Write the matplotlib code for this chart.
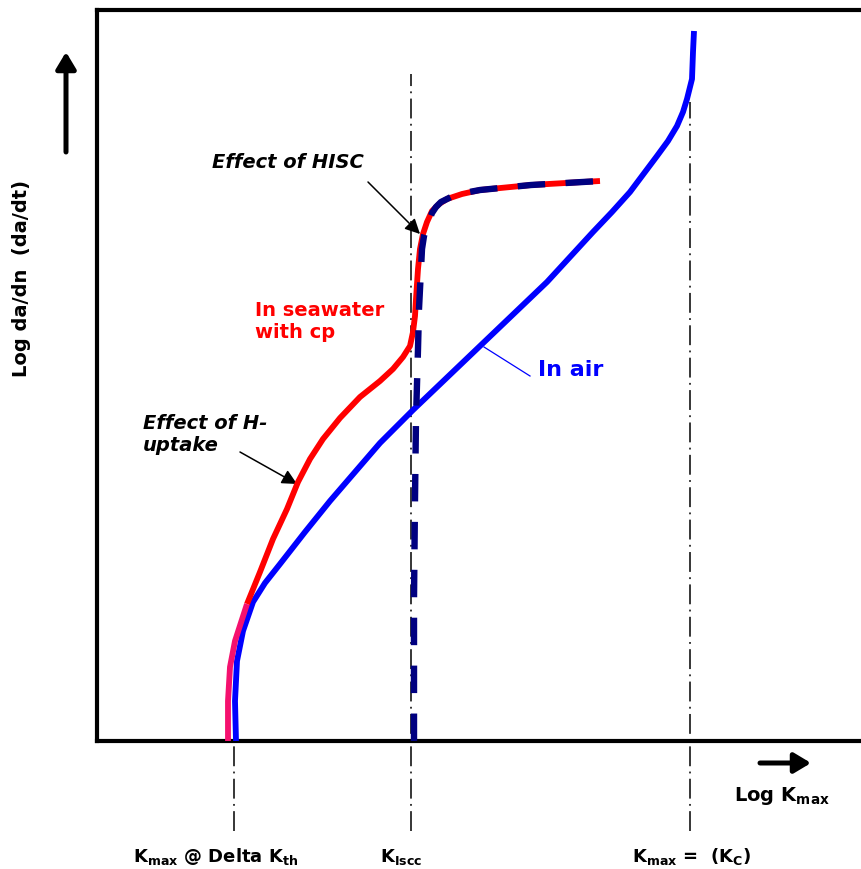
#!/usr/bin/env python3
"""
Schematic of fatigue crack growth rate vs Kmax, in air and in seawater with cp.
"""

import matplotlib
matplotlib.use('Agg')
import matplotlib.pyplot as plt

plt.rcParams.update({
    'font.family': 'DejaVu Sans',
    'font.weight': 'bold',
    'mathtext.fontset': 'dejavusans',
    'figure.dpi': 100,
})

# Curve data in arbitrary log units (x: log Kmax, y: log da/dn)
air_x = [139, 138, 140, 146, 156, 168, 183, 208, 233, 283, 316, 383, 450,
         496, 515, 533, 548, 560, 571, 580, 586, 590, 595, 596, 597]
air_y = [0, 40, 80, 110, 139, 158, 177, 209, 240, 298, 331, 395, 459,
         509, 529, 549, 569, 585, 600, 615, 629, 642, 662, 689, 710]

threshold_x = [131, 131, 133, 138, 150]
threshold_y = [0, 40, 74, 100, 137]

sea_x = [150, 163, 176, 190, 201, 213, 226, 243, 263, 283, 296, 306, 313, 316,
         318, 319, 321, 323, 326, 330, 335, 342, 350, 365, 383, 434, 503]
sea_y = [137, 169, 202, 232, 259, 282, 302, 323, 344, 360, 372, 384, 395, 409,
         425, 442, 472, 492, 507, 519, 530, 537, 542, 547, 551, 556, 560]

hisc_x = [317, 317, 318, 319, 321, 322, 324, 325, 327, 330, 335, 339, 344, 354,
          367, 383, 434, 503]
hisc_y = [0, 142, 242, 322, 392, 432, 472, 492, 505, 515, 528, 534, 539, 544,
          548, 551, 556, 560]

# reference K levels and the top of each guide line
k_th = 137
k_iscc = 314
k_c = 593
guide_tops = [0, 667, 639]
guide_bottom = -90

bottom_labels = [r'K$_{\mathbf{max}}$ @ Delta K$_{\mathbf{th}}$',
                 r'K$_{\mathbf{Iscc}}$',
                 r'K$_{\mathbf{max}}$ =  (K$_{\mathbf{C}}$)']
bottom_label_x = [119, 304, 595]


def main():
    fig = plt.figure(figsize=(8.62, 8.70))
    ax = fig.add_axes([97 / 862, 128 / 870, 1 - 97 / 862, 731 / 870])
    ax.set_xlim(0, 765)
    ax.set_ylim(0, 731)
    ax.set_xticks([])
    ax.set_yticks([])
    for side in ['left', 'top', 'bottom']:
        ax.spines[side].set_linewidth(3)
    ax.spines['right'].set_visible(False)

    # dash-dot guide lines
    dashdot = (0, (13, 3.5, 1.2, 3.5))
    for gx, gtop in zip([k_th, k_iscc, k_c], guide_tops):
        ax.plot([gx, gx], [guide_bottom, gtop], color='black', lw=1.1,
                linestyle=dashdot, clip_on=False, zorder=1)

    # curves
    ax.plot(air_x, air_y, color='#0000ff', lw=4.2, solid_joinstyle='round',
            solid_capstyle='butt', zorder=3)
    ax.plot(sea_x, sea_y, color='#ff0000', lw=4.2, solid_joinstyle='round',
            solid_capstyle='butt', zorder=4)
    ax.plot(threshold_x, threshold_y, color='#f5106e', lw=4.2,
            solid_joinstyle='round', solid_capstyle='butt', zorder=4)
    ax.plot(hisc_x, hisc_y, color='#000080', lw=4.6, linestyle=(0, (4.3, 3.2)),
            dash_joinstyle='round', zorder=5)

    # annotations
    ax.text(115, 579, 'Effect of HISC', fontsize=14, style='italic',
            ha='left', va='center')
    ax.annotate('', xy=(323, 507), xytext=(271, 559),
                arrowprops=dict(arrowstyle='-|>,head_length=0.5,head_width=0.25',
                                color='black', lw=1.1, mutation_scale=18,
                                shrinkA=0, shrinkB=0))

    ax.text(158, 421, 'In seawater\nwith cp', fontsize=14, color='#ff0000',
            ha='left', va='center')

    ax.text(46, 307, 'Effect of H-\nuptake', fontsize=14, style='italic',
            ha='left', va='center')
    ax.annotate('', xy=(200, 257), xytext=(143, 289),
                arrowprops=dict(arrowstyle='-|>,head_length=0.5,head_width=0.25',
                                color='black', lw=1.1, mutation_scale=18,
                                shrinkA=0, shrinkB=0))

    ax.text(441, 372, 'In air', fontsize=16, color='#0000ff',
            ha='left', va='center')
    ax.plot([387, 433], [394, 365], color='#0000ff', lw=0.9, zorder=2)

    # axis direction arrows
    ax.annotate('', xy=(-31, 689), xytext=(-31, 589), annotation_clip=False,
                arrowprops=dict(arrowstyle='-|>,head_length=0.5,head_width=0.3',
                                color='black', lw=3.6, mutation_scale=20,
                                shrinkA=0, shrinkB=0))
    ax.annotate('', xy=(714, -22), xytext=(663, -22), annotation_clip=False,
                arrowprops=dict(arrowstyle='-|>,head_length=0.5,head_width=0.3',
                                color='black', lw=3.6, mutation_scale=20,
                                shrinkA=0, shrinkB=0))

    ax.text(685, -54, r'Log K$_{\mathbf{max}}$', fontsize=14, ha='center',
            va='center', clip_on=False)
    for label, lx in zip(bottom_labels, bottom_label_x):
        ax.text(lx, -115, label, fontsize=13, ha='center', va='center',
                clip_on=False)

    fig.text(22 / 862, 1 - 279 / 870, 'Log da/dn  (da/dt)', fontsize=14,
             rotation=90, ha='center', va='center')

    fig.savefig('out.png', dpi=100)
    plt.close(fig)


if __name__ == '__main__':
    main()
